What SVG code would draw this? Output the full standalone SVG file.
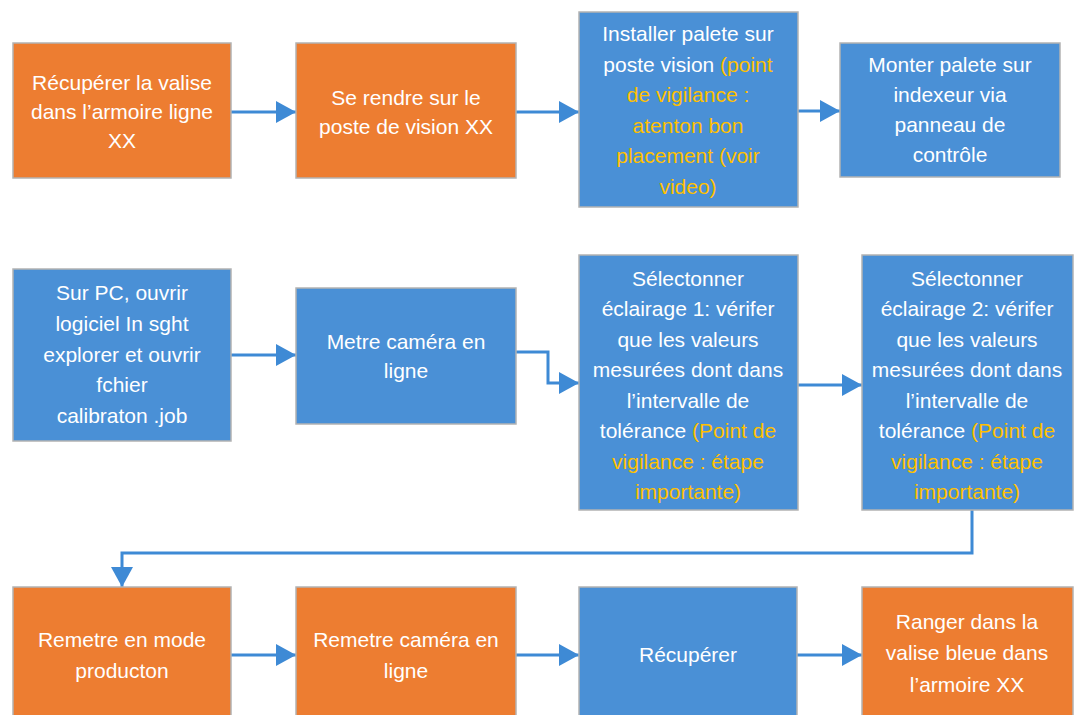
<svg xmlns="http://www.w3.org/2000/svg" width="1075" height="715" viewBox="0 0 1075 715">
<defs>
<style>
.box{stroke:#b3b3b3;stroke-width:1.5}
.or{fill:#ED7D31}
.bl{fill:#4A90D6}
text{font-family:"Liberation Sans",Arial,sans-serif;font-size:21px;fill:#ffffff;text-anchor:middle}
.y{fill:#FFC000}
.c{fill:none;stroke:#3E8AD5;stroke-width:3;marker-end:url(#ah)}
</style>
<marker id="ah" markerUnits="userSpaceOnUse" markerWidth="20" markerHeight="22" refX="20" refY="11" orient="auto">
<path d="M0,0 L20,11 L0,22 Z" fill="#3E8AD5"/>
</marker>
</defs>
<rect width="1075" height="715" fill="#ffffff"/>

<g id="connectors">
<path class="c" d="M231,112 H296"/>
<path class="c" d="M516,112 H579"/>
<path class="c" d="M798,111 H840"/>
<path class="c" d="M231,355 H296"/>
<path class="c" d="M516,352 H548 V383 H579"/>
<path class="c" d="M798,385 H862"/>
<path class="c" d="M972,510 V553 H122 V587"/>
<path class="c" d="M231,655 H296"/>
<path class="c" d="M516,655 H579"/>
<path class="c" d="M797,655 H862"/>
</g>

<g id="n1">
<rect class="box or" x="13" y="43" width="218" height="135"/>
<text x="122" y="90">Récupérer la valise</text>
<text x="122" y="119">dans l’armoire ligne</text>
<text x="122" y="148">XX</text>
</g>

<g id="n2">
<rect class="box or" x="296" y="43" width="220" height="135"/>
<text x="406" y="105">Se rendre sur le</text>
<text x="406" y="134">poste de vision XX</text>
</g>

<g id="n3">
<rect class="box bl" x="579" y="12" width="219" height="195"/>
<text x="688" y="41">Installer palete sur</text>
<text x="688" y="72">poste vision <tspan class="y">(point</tspan></text>
<text x="688" y="102" class="y">de vigilance :</text>
<text x="688" y="133" class="y">atenton bon</text>
<text x="688" y="163" class="y">placement (voir</text>
<text x="688" y="194" class="y">video)</text>
</g>

<g id="n4">
<rect class="box bl" x="840" y="43" width="220" height="134"/>
<text x="950" y="72">Monter palete sur</text>
<text x="950" y="102">indexeur via</text>
<text x="950" y="132">panneau de</text>
<text x="950" y="162">contrôle</text>
</g>

<g id="n5">
<rect class="box bl" x="13" y="269" width="218" height="172"/>
<text x="122" y="300">Sur PC, ouvrir</text>
<text x="122" y="331">logiciel In sght</text>
<text x="122" y="362">explorer et ouvrir</text>
<text x="122" y="392">fchier</text>
<text x="122" y="423">calibraton .job</text>
</g>

<g id="n6">
<rect class="box bl" x="296" y="288" width="220" height="136"/>
<text x="406" y="349">Metre caméra en</text>
<text x="406" y="378">ligne</text>
</g>

<g id="n7">
<rect class="box bl" x="579" y="255" width="219" height="255"/>
<text x="688" y="286">Sélectonner</text>
<text x="688" y="316">éclairage 1: vérifer</text>
<text x="688" y="347">que les valeurs</text>
<text x="688" y="377">mesurées dont dans</text>
<text x="688" y="408">l’intervalle de</text>
<text x="688" y="438">tolérance <tspan class="y">(Point de</tspan></text>
<text x="688" y="469" class="y">vigilance : étape</text>
<text x="688" y="499" class="y">importante)</text>
</g>

<g id="n8">
<rect class="box bl" x="862" y="255" width="211" height="255"/>
<text x="967" y="286">Sélectonner</text>
<text x="967" y="316">éclairage 2: vérifer</text>
<text x="967" y="347">que les valeurs</text>
<text x="967" y="377">mesurées dont dans</text>
<text x="967" y="408">l’intervalle de</text>
<text x="967" y="438">tolérance <tspan class="y">(Point de</tspan></text>
<text x="967" y="469" class="y">vigilance : étape</text>
<text x="967" y="499" class="y">importante)</text>
</g>

<g id="n9">
<rect class="box or" x="13" y="587" width="218" height="130"/>
<text x="122" y="647">Remetre en mode</text>
<text x="122" y="678">producton</text>
</g>

<g id="n10">
<rect class="box or" x="296" y="587" width="220" height="130"/>
<text x="406" y="647">Remetre caméra en</text>
<text x="406" y="678">ligne</text>
</g>

<g id="n11">
<rect class="box bl" x="579" y="587" width="218" height="130"/>
<text x="688" y="662">Récupérer</text>
</g>

<g id="n12">
<rect class="box or" x="862" y="587" width="211" height="130"/>
<text x="967" y="629">Ranger dans la</text>
<text x="967" y="660">valise bleue dans</text>
<text x="967" y="692">l’armoire XX</text>
</g>
</svg>
